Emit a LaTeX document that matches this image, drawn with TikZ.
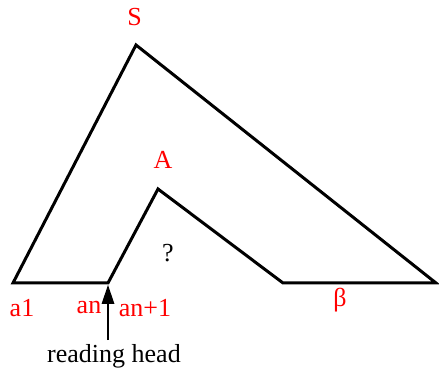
\documentclass[tikz,border=0pt]{standalone}
\usepackage{fontspec}
\setmainfont{Liberation Serif}
\usetikzlibrary{arrows.meta}

\begin{document}
\begin{tikzpicture}[x=1pt,y=-1pt,
  tree/.style={line width=3pt,line join=miter},
  lbl/.style={text=red,font=\fontsize{26}{30}\selectfont,inner sep=0pt}]
  \useasboundingbox (0,0) rectangle (439,371);
  % Corners of the tree
  \coordinate (s) at (136,45);
  \coordinate (left) at (13,283);
  \coordinate (right) at (436,283);
  \coordinate (mid) at (283,283);
  \coordinate (a) at (158,189);
  \coordinate (cut) at (108,283);
  \draw[tree] (cut) -- (left) -- (s) -- (right) -- (mid) -- (a) -- cycle;
  % Symbols
  \node[lbl] (slbl) at (134.5,17) {S};
  \node[lbl] (albl) at (163,160) {A};
  \node[inner sep=0pt,font=\fontsize{26}{30}\selectfont] (qlbl) at (168,253) {?};
  \node[lbl] (a1) at (22,308) {a1};
  \node[lbl] (an) at (89,308) {an};
  \node[lbl] (an1) at (145,308) {an+1};
  \node[lbl] (beta) at (340,300) {β};
  % Reading head
  \node[anchor=base,inner sep=0pt,font=\fontsize{26}{30}\selectfont] (head) at (114,362) {reading head};
  \coordinate (foot) at (108,340);
  \draw[line width=1.8pt,shorten >=18pt] (foot) -- (cut);
  \fill (cut) ++(0,2) -- ++(-6.5,19) -- ++(13,0) -- cycle;
\end{tikzpicture}
\end{document}
